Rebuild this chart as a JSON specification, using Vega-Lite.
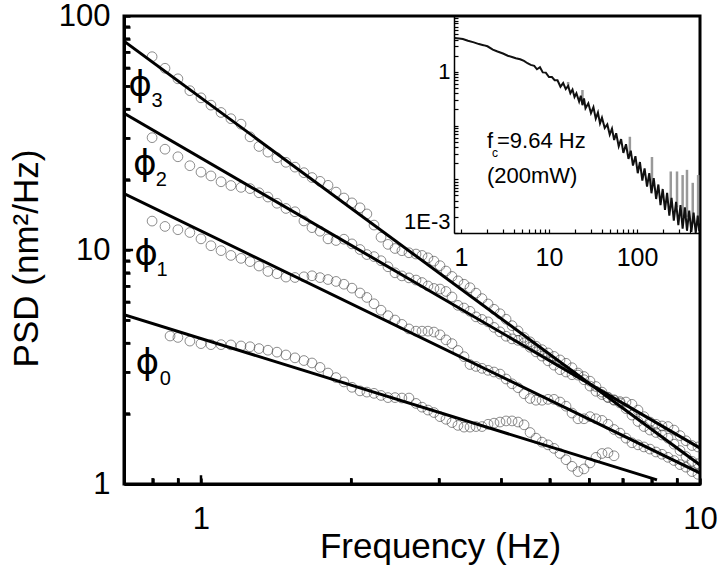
{
  "$schema": "https://vega.github.io/schema/vega-lite/v6.json",
  "width": 576,
  "height": 468,
  "autosize": {"type": "none"},
  "padding": {"left": 124, "top": 16, "right": 20, "bottom": 85},
  "background": "white",
  "config": {
    "font": "Liberation Sans",
    "view": {"stroke": "black", "strokeWidth": 3},
    "axis": {"grid": false, "ticks": true, "domainColor": "black", "tickColor": "black", "labelColor": "black", "titleColor": "black", "labelFont": "Liberation Sans", "titleFont": "Liberation Sans", "titleFontWeight": "normal", "labelFlush": false, "labelOverlap": false}
  },
  "datasets": {
    "fits": [
      {"s": 3, "f": 0.701, "p": 78.1}, {"s": 3, "f": 10, "p": 1.206},
      {"s": 2, "f": 0.701, "p": 38.4}, {"s": 2, "f": 10, "p": 1.424},
      {"s": 1, "f": 0.701, "p": 17.43}, {"s": 1, "f": 10, "p": 1.114},
      {"s": 0, "f": 0.701, "p": 5.29}, {"s": 0, "f": 8.2, "p": 1.041}
    ],
    "pts": [
      {"s":3,"f":0.798,"p":67.0},{"s":2,"f":0.798,"p":30.2},{"s":1,"f":0.798,"p":13.29},
      {"s":3,"f":0.847,"p":59.8},{"s":2,"f":0.847,"p":26.96},{"s":1,"f":0.847,"p":12.61},
      {"s":0,"f":0.867,"p":4.29},
      {"s":3,"f":0.899,"p":53.9},{"s":2,"f":0.899,"p":25.03},{"s":1,"f":0.899,"p":12.21},{"s":0,"f":0.899,"p":4.23},
      {"s":3,"f":0.950,"p":47.95},{"s":2,"f":0.950,"p":22.92},{"s":1,"f":0.950,"p":11.88},{"s":0,"f":0.950,"p":4.08},
      {"s":3,"f":1.000,"p":44.7},{"s":2,"f":1.000,"p":21.52},{"s":1,"f":1.000,"p":11.16},{"s":0,"f":1.000,"p":3.98},
      {"s":3,"f":1.047,"p":41.6},{"s":2,"f":1.047,"p":20.73},{"s":1,"f":1.047,"p":10.43},{"s":0,"f":1.047,"p":3.94},
      {"s":3,"f":1.097,"p":38.7},{"s":2,"f":1.097,"p":19.57},{"s":1,"f":1.097,"p":9.94},{"s":0,"f":1.097,"p":3.94},
      {"s":3,"f":1.148,"p":36.4},{"s":2,"f":1.148,"p":18.86},{"s":1,"f":1.148,"p":9.48},{"s":0,"f":1.148,"p":3.93},
      {"s":3,"f":1.203,"p":34.5},{"s":2,"f":1.203,"p":18.52},{"s":1,"f":1.203,"p":9.21},{"s":0,"f":1.203,"p":3.89},
      {"s":3,"f":1.254,"p":30.45},{"s":2,"f":1.254,"p":18.30},{"s":1,"f":1.254,"p":8.92},{"s":0,"f":1.254,"p":3.86},
      {"s":3,"f":1.307,"p":27.7},{"s":2,"f":1.307,"p":17.56},{"s":1,"f":1.307,"p":8.54},{"s":0,"f":1.307,"p":3.79},
      {"s":3,"f":1.362,"p":26.2},{"s":2,"f":1.362,"p":16.84},{"s":1,"f":1.362,"p":8.10},{"s":0,"f":1.362,"p":3.73},
      {"s":3,"f":1.420,"p":24.8},{"s":2,"f":1.420,"p":15.84},{"s":1,"f":1.420,"p":7.92},{"s":0,"f":1.420,"p":3.66},
      {"s":3,"f":1.480,"p":23.7},{"s":2,"f":1.480,"p":15.05},{"s":1,"f":1.480,"p":7.66},{"s":0,"f":1.480,"p":3.56},
      {"s":3,"f":1.543,"p":22.6},{"s":2,"f":1.543,"p":14.57},{"s":1,"f":1.543,"p":7.63},{"s":0,"f":1.543,"p":3.46},
      {"s":3,"f":1.608,"p":21.4},{"s":2,"f":1.608,"p":13.31},{"s":1,"f":1.608,"p":7.68},{"s":0,"f":1.608,"p":3.37},
      {"s":3,"f":1.669,"p":20.4},{"s":2,"f":1.669,"p":12.46},{"s":1,"f":1.669,"p":7.76},{"s":0,"f":1.669,"p":3.29},
      {"s":3,"f":1.732,"p":19.65},{"s":2,"f":1.732,"p":12.03},{"s":1,"f":1.732,"p":7.62},{"s":0,"f":1.732,"p":3.15},
      {"s":3,"f":1.797,"p":18.9},{"s":2,"f":1.797,"p":11.16},{"s":1,"f":1.797,"p":7.48},{"s":0,"f":1.797,"p":2.98},
      {"s":3,"f":1.865,"p":17.68},{"s":2,"f":1.865,"p":10.98},{"s":1,"f":1.865,"p":7.34},{"s":0,"f":1.865,"p":2.85},
      {"s":3,"f":1.934,"p":16.68},{"s":2,"f":1.934,"p":11.12},{"s":1,"f":1.934,"p":7.14},{"s":0,"f":1.934,"p":2.73},
      {"s":3,"f":2.007,"p":15.9},{"s":2,"f":2.007,"p":10.62},{"s":1,"f":2.007,"p":6.87},{"s":0,"f":2.007,"p":2.59},
      {"s":3,"f":2.083,"p":15.15},{"s":2,"f":2.083,"p":10.05},{"s":1,"f":2.083,"p":6.55},{"s":0,"f":2.083,"p":2.50},
      {"s":3,"f":2.150,"p":14.26},{"s":2,"f":2.150,"p":9.56},{"s":1,"f":2.150,"p":6.27},{"s":0,"f":2.150,"p":2.47},
      {"s":3,"f":2.222,"p":12.78},{"s":2,"f":2.222,"p":9.37},{"s":1,"f":2.222,"p":5.89},{"s":0,"f":2.222,"p":2.44},
      {"s":3,"f":2.295,"p":11.34},{"s":2,"f":2.295,"p":9.00},{"s":1,"f":2.295,"p":5.53},{"s":0,"f":2.295,"p":2.39},
      {"s":3,"f":2.370,"p":10.57},{"s":2,"f":2.370,"p":8.48},{"s":1,"f":2.370,"p":5.24},{"s":0,"f":2.370,"p":2.34},
      {"s":3,"f":2.448,"p":10.15},{"s":2,"f":2.448,"p":7.99},{"s":1,"f":2.448,"p":5.02},{"s":0,"f":2.448,"p":2.34},
      {"s":3,"f":2.527,"p":9.93},{"s":2,"f":2.527,"p":7.75},{"s":1,"f":2.527,"p":4.81},{"s":0,"f":2.527,"p":2.33},
      {"s":3,"f":2.611,"p":9.73},{"s":2,"f":2.611,"p":7.60},{"s":1,"f":2.611,"p":4.60},{"s":0,"f":2.611,"p":2.33},
      {"s":3,"f":2.697,"p":9.61},{"s":2,"f":2.697,"p":7.44},{"s":1,"f":2.697,"p":4.50},{"s":0,"f":2.697,"p":2.21},
      {"s":3,"f":2.773,"p":9.48},{"s":2,"f":2.773,"p":7.26},{"s":1,"f":2.773,"p":4.50},{"s":0,"f":2.773,"p":2.13},
      {"s":3,"f":2.850,"p":9.26},{"s":2,"f":2.850,"p":7.02},{"s":1,"f":2.850,"p":4.50},{"s":0,"f":2.850,"p":2.07},
      {"s":3,"f":2.930,"p":8.96},{"s":2,"f":2.930,"p":6.85},{"s":1,"f":2.930,"p":4.46},{"s":0,"f":2.930,"p":2.02},
      {"s":3,"f":3.013,"p":8.57},{"s":2,"f":3.013,"p":6.81},{"s":1,"f":3.013,"p":4.34},{"s":0,"f":3.013,"p":1.94},
      {"s":3,"f":3.097,"p":8.13},{"s":2,"f":3.097,"p":6.65},{"s":1,"f":3.097,"p":4.13},{"s":0,"f":3.097,"p":1.89},
      {"s":3,"f":3.184,"p":7.71},{"s":2,"f":3.184,"p":6.30},{"s":1,"f":3.184,"p":3.98},{"s":0,"f":3.184,"p":1.83},
      {"s":3,"f":3.273,"p":7.38},{"s":2,"f":3.273,"p":5.80},{"s":1,"f":3.273,"p":3.72},{"s":0,"f":3.273,"p":1.78},
      {"s":3,"f":3.366,"p":7.14},{"s":2,"f":3.366,"p":5.65},{"s":1,"f":3.366,"p":3.50},{"s":0,"f":3.366,"p":1.75},
      {"s":3,"f":3.460,"p":6.90},{"s":2,"f":3.460,"p":5.47},{"s":1,"f":3.460,"p":3.24},{"s":0,"f":3.460,"p":1.75},
      {"s":3,"f":3.557,"p":6.54},{"s":2,"f":3.557,"p":5.18},{"s":1,"f":3.557,"p":3.18},{"s":0,"f":3.557,"p":1.76},
      {"s":3,"f":3.657,"p":6.20},{"s":2,"f":3.657,"p":5.05},{"s":1,"f":3.657,"p":3.12},{"s":0,"f":3.657,"p":1.76},
      {"s":3,"f":3.761,"p":5.88},{"s":2,"f":3.761,"p":4.93},{"s":1,"f":3.761,"p":3.06},{"s":0,"f":3.761,"p":1.80},
      {"s":3,"f":3.866,"p":5.58},{"s":2,"f":3.866,"p":4.67},{"s":1,"f":3.866,"p":3.01},{"s":0,"f":3.866,"p":1.82},
      {"s":3,"f":3.974,"p":5.34},{"s":2,"f":3.974,"p":4.47},{"s":1,"f":3.974,"p":2.95},{"s":0,"f":3.974,"p":1.84},
      {"s":3,"f":4.087,"p":5.06},{"s":2,"f":4.087,"p":4.28},{"s":1,"f":4.087,"p":2.81},{"s":0,"f":4.087,"p":1.86},
      {"s":3,"f":4.201,"p":4.75},{"s":2,"f":4.201,"p":4.17},{"s":1,"f":4.201,"p":2.68},{"s":0,"f":4.201,"p":1.86},
      {"s":3,"f":4.319,"p":4.51},{"s":2,"f":4.319,"p":4.11},{"s":1,"f":4.319,"p":2.58},{"s":0,"f":4.319,"p":1.84},
      {"s":3,"f":4.441,"p":4.23},{"s":2,"f":4.441,"p":4.01},{"s":1,"f":4.441,"p":2.43},{"s":0,"f":4.441,"p":1.79},
      {"s":3,"f":4.565,"p":4.05},{"s":2,"f":4.565,"p":3.84},{"s":1,"f":4.565,"p":2.32},{"s":0,"f":4.565,"p":1.66},
      {"s":3,"f":4.692,"p":3.88},{"s":2,"f":4.692,"p":3.67},{"s":1,"f":4.692,"p":2.28},{"s":0,"f":4.692,"p":1.57},
      {"s":3,"f":4.824,"p":3.75},{"s":2,"f":4.824,"p":3.52},{"s":1,"f":4.824,"p":2.28},{"s":0,"f":4.824,"p":1.51},
      {"s":3,"f":4.960,"p":3.63},{"s":2,"f":4.960,"p":3.36},{"s":1,"f":4.960,"p":2.30},{"s":0,"f":4.960,"p":1.47},
      {"s":3,"f":5.099,"p":3.51},{"s":2,"f":5.099,"p":3.22},{"s":1,"f":5.099,"p":2.30},{"s":0,"f":5.099,"p":1.42},
      {"s":3,"f":5.242,"p":3.39},{"s":2,"f":5.242,"p":3.08},{"s":1,"f":5.242,"p":2.24},{"s":0,"f":5.242,"p":1.35},
      {"s":3,"f":5.389,"p":3.28},{"s":2,"f":5.389,"p":3.01},{"s":1,"f":5.389,"p":2.15},{"s":0,"f":5.389,"p":1.27},
      {"s":3,"f":5.540,"p":3.14},{"s":2,"f":5.540,"p":2.93},{"s":1,"f":5.540,"p":2.01},{"s":0,"f":5.540,"p":1.19},
      {"s":3,"f":5.695,"p":2.98},{"s":2,"f":5.695,"p":2.92},{"s":1,"f":5.695,"p":1.90},{"s":0,"f":5.695,"p":1.13},
      {"s":3,"f":5.855,"p":2.79},{"s":2,"f":5.855,"p":2.88},{"s":1,"f":5.855,"p":1.90},{"s":0,"f":5.855,"p":1.16},
      {"s":3,"f":6.020,"p":2.62},{"s":2,"f":6.020,"p":2.75},{"s":1,"f":6.020,"p":1.94},{"s":0,"f":6.020,"p":1.23},
      {"s":3,"f":6.188,"p":2.49},{"s":2,"f":6.188,"p":2.61},{"s":1,"f":6.188,"p":1.90},{"s":0,"f":6.188,"p":1.30},
      {"s":3,"f":6.362,"p":2.41},{"s":2,"f":6.362,"p":2.47},{"s":1,"f":6.362,"p":1.87},{"s":0,"f":6.362,"p":1.35},
      {"s":3,"f":6.540,"p":2.35},{"s":2,"f":6.540,"p":2.34},{"s":1,"f":6.540,"p":1.80},{"s":0,"f":6.540,"p":1.36},
      {"s":3,"f":6.725,"p":2.29},{"s":2,"f":6.725,"p":2.28},{"s":1,"f":6.725,"p":1.71},{"s":0,"f":6.725,"p":1.32},
      {"s":3,"f":6.913,"p":2.22},{"s":2,"f":6.913,"p":2.25},{"s":1,"f":6.913,"p":1.65},
      {"s":3,"f":7.107,"p":2.10},{"s":2,"f":7.107,"p":2.24},{"s":1,"f":7.107,"p":1.57},
      {"s":3,"f":7.306,"p":1.97},{"s":2,"f":7.306,"p":2.19},{"s":1,"f":7.306,"p":1.50},
      {"s":3,"f":7.512,"p":1.85},{"s":2,"f":7.512,"p":2.07},{"s":1,"f":7.512,"p":1.47},
      {"s":3,"f":7.722,"p":1.76},{"s":2,"f":7.722,"p":1.94},{"s":1,"f":7.722,"p":1.44},
      {"s":3,"f":7.939,"p":1.70},{"s":2,"f":7.939,"p":1.84},{"s":1,"f":7.939,"p":1.41},
      {"s":3,"f":8.162,"p":1.66},{"s":2,"f":8.162,"p":1.80},{"s":1,"f":8.162,"p":1.37},
      {"s":3,"f":8.391,"p":1.62},{"s":2,"f":8.391,"p":1.77},{"s":1,"f":8.391,"p":1.34},
      {"s":3,"f":8.628,"p":1.57},{"s":2,"f":8.628,"p":1.76},{"s":1,"f":8.628,"p":1.30},
      {"s":3,"f":8.870,"p":1.48},{"s":2,"f":8.870,"p":1.70},{"s":1,"f":8.870,"p":1.26},
      {"s":3,"f":9.119,"p":1.39},{"s":2,"f":9.119,"p":1.61},{"s":1,"f":9.119,"p":1.21},
      {"s":3,"f":9.374,"p":1.31},{"s":2,"f":9.374,"p":1.53},{"s":1,"f":9.374,"p":1.18},
      {"s":3,"f":9.638,"p":1.25},{"s":2,"f":9.638,"p":1.46},{"s":1,"f":9.638,"p":1.13},
      {"s":3,"f":9.908,"p":1.22},{"s":2,"f":9.908,"p":1.44},{"s":1,"f":9.908,"p":1.10}
    ],
    "phi": [
      {"s": "3", "f": 0.755, "p": 50.7},
      {"s": "2", "f": 0.772, "p": 23.4},
      {"s": "1", "f": 0.776, "p": 9.66},
      {"s": "0", "f": 0.781, "p": 3.30}
    ],
    "sub": [
      {"s": "3", "f": 0.817, "p": 43.5},
      {"s": "2", "f": 0.833, "p": 19.9},
      {"s": "1", "f": 0.836, "p": 8.21},
      {"s": "0", "f": 0.848, "p": 2.82}
    ],
    "ins": [
      {"f":0.85,"p":4.3},{"f":0.95,"p":4.2},{"f":1.05,"p":4.1},{"f":1.2,"p":3.8},{"f":1.4,"p":3.55},{"f":1.6,"p":3.3},{"f":1.8,"p":3.15},{"f":2.0,"p":3.0},{"f":2.3,"p":2.6},{"f":2.6,"p":2.4},{"f":3.0,"p":2.2},{"f":3.4,"p":2.0},{"f":3.8,"p":1.9},{"f":4.2,"p":1.8},{"f":4.7,"p":1.72},{"f":5.2,"p":1.6},{"f":5.7,"p":1.45},{"f":6.2,"p":1.35},{"f":6.8,"p":1.3},{"f":7.3,"p":1.12},{"f":7.9,"p":1.22},{"f":8.5,"p":0.98},{"f":9.2,"p":0.97},{"f":10,"p":0.8},{"f":10.8,"p":0.8},{"f":11.6,"p":0.7},{"f":12.5,"p":0.7},{"f":13.5,"p":0.53},{"f":14.5,"p":0.62},{"f":15.5,"p":0.48},{"f":16.5,"p":0.55},{"f":17.5,"p":0.4},{"f":18.5,"p":0.47},{"f":19.5,"p":0.34},{"f":20.5,"p":0.4},{"f":22,"p":0.28},{"f":23,"p":0.36},{"f":24,"p":0.24},{"f":25,"p":0.32},{"f":26,"p":0.21},{"f":28,"p":0.26},{"f":30,"p":0.17},{"f":32,"p":0.22},{"f":34,"p":0.135},{"f":36,"p":0.175},{"f":38,"p":0.11},{"f":40,"p":0.14},{"f":43,"p":0.09},{"f":46,"p":0.105},{"f":49,"p":0.068},{"f":52,"p":0.088},{"f":55,"p":0.054},{"f":58,"p":0.072},{"f":62,"p":0.041},{"f":66,"p":0.056},{"f":70,"p":0.031},{"f":75,"p":0.045},{"f":80,"p":0.024},{"f":85,"p":0.034},{"f":90,"p":0.018},{"f":96,"p":0.027},{"f":102,"p":0.013},{"f":108,"p":0.021},{"f":115,"p":0.0095},{"f":122,"p":0.016},{"f":130,"p":0.0073},{"f":138,"p":0.013},{"f":146,"p":0.0055},{"f":155,"p":0.0105},{"f":165,"p":0.0043},{"f":175,"p":0.008},{"f":185,"p":0.0033},{"f":196,"p":0.0066},{"f":208,"p":0.0027},{"f":220,"p":0.0056},{"f":233,"p":0.0021},{"f":247,"p":0.0045},{"f":262,"p":0.0017},{"f":278,"p":0.0038},{"f":295,"p":0.0014},{"f":312,"p":0.0033},{"f":330,"p":0.0012},{"f":350,"p":0.003},{"f":370,"p":0.0011},{"f":392,"p":0.0026},{"f":415,"p":0.00105},{"f":440,"p":0.0024},{"f":465,"p":0.001},{"f":490,"p":0.0021},{"f":510,"p":0.0011}
    ],
    "spikes": [
      {"f":16.5,"lo":0.5,"hi":0.65},{"f":24,"lo":0.3,"hi":0.46},{"f":83,"lo":0.03,"hi":0.062},{"f":148,"lo":0.008,"hi":0.026},{"f":242,"lo":0.003,"hi":0.014},{"f":285,"lo":0.003,"hi":0.014},{"f":330,"lo":0.002,"hi":0.012},{"f":370,"lo":0.002,"hi":0.015},{"f":430,"lo":0.0015,"hi":0.0086},{"f":495,"lo":0.0015,"hi":0.012}
    ],
    "itext": [
      {"t": "f", "f": 1.975, "p": 0.0385},
      {"t": "=9.64 Hz", "f": 2.565, "p": 0.0385},
      {"t": "(200mW)", "f": 1.975, "p": 0.00857}
    ],
    "isub": [
      {"t": "c", "f": 2.25, "p": 0.0261}
    ],
    "xminor": [{"f": 0.8}, {"f": 0.9}, {"f": 2}, {"f": 3}, {"f": 4}, {"f": 5}, {"f": 6}, {"f": 7}, {"f": 8}, {"f": 9}],
    "yminor": [{"p": 2}, {"p": 3}, {"p": 4}, {"p": 5}, {"p": 6}, {"p": 7}, {"p": 8}, {"p": 9}, {"p": 20}, {"p": 30}, {"p": 40}, {"p": 50}, {"p": 60}, {"p": 70}, {"p": 80}, {"p": 90}],
    "xmaj": [{"f": 1}],
    "ymaj": [{"p": 10}]
  },
  "layer": [
    {
      "layer": [
        {
          "data": {"name": "pts"},
          "mark": {"type": "point", "shape": "circle", "filled": false, "stroke": "#333", "strokeWidth": 0.8, "size": 95, "clip": true},
          "encoding": {
            "x": {"field": "f", "type": "quantitative", "scale": {"type": "log", "domain": [0.701, 10], "nice": false},
              "axis": {"orient": "bottom", "title": "Frequency (Hz)", "titleFontSize": 35, "titleX": 316, "titleY": 73, "titleAlign": "center", "titleBaseline": "alphabetic",
                "values": [0.8, 0.9, 1, 2, 3, 4, 5, 6, 7, 8, 9, 10],
                "labelExpr": "datum.value == 1 ? '1' : datum.value == 10 ? '10' : ''",
                "labelFontSize": 31, "labelPadding": 26, "ticks": true,
                "tickSize": -6, "tickWidth": 2.5, "domainWidth": 3, "zindex": 5}},
            "y": {"field": "p", "type": "quantitative", "scale": {"type": "log", "domain": [1, 100], "nice": false},
              "axis": {"orient": "left", "title": "PSD (nm²/Hz)", "titleFontSize": 35, "titleX": -87, "titleY": 242, "titleAngle": 270, "titleAlign": "center", "titleBaseline": "alphabetic",
                "values": [1, 2, 3, 4, 5, 6, 7, 8, 9, 10, 20, 30, 40, 50, 60, 70, 80, 90, 100],
                "labelExpr": "datum.value == 1 ? '1' : datum.value == 10 ? '10' : datum.value == 100 ? '100' : ''",
                "labelFontSize": 31, "labelPadding": 20, "ticks": true,
                "tickSize": -6, "tickWidth": 2.5, "domainWidth": 3, "zindex": 5}}
          }
        },
        {
          "data": {"name": "fits"},
          "mark": {"type": "line", "color": "black", "strokeWidth": 3, "clip": true},
          "encoding": {
            "x": {"field": "f", "type": "quantitative"},
            "y": {"field": "p", "type": "quantitative"},
            "detail": {"field": "s"}
          }
        },
        {
          "data": {"name": "xminor"},
          "mark": {"type": "rule", "color": "black", "strokeWidth": 2.5},
          "encoding": {
            "x": {"field": "f", "type": "quantitative"},
            "y": {"datum": 1},
            "y2": {"datum": 1.06}
          }
        },
        {
          "data": {"name": "yminor"},
          "mark": {"type": "rule", "color": "black", "strokeWidth": 2.5},
          "encoding": {
            "y": {"field": "p", "type": "quantitative"},
            "x": {"datum": 0.701},
            "x2": {"datum": 0.7205}
          }
        },
        {
          "data": {"name": "xmaj"},
          "mark": {"type": "rule", "color": "black", "strokeWidth": 2.5},
          "encoding": {
            "x": {"field": "f", "type": "quantitative"},
            "y": {"datum": 1},
            "y2": {"datum": 1.09}
          }
        },
        {
          "data": {"name": "ymaj"},
          "mark": {"type": "rule", "color": "black", "strokeWidth": 2.5},
          "encoding": {
            "y": {"field": "p", "type": "quantitative"},
            "x": {"datum": 0.701},
            "x2": {"datum": 0.731}
          }
        },
        {
          "data": {"name": "phi"},
          "mark": {"type": "text", "font": "DejaVu Sans", "fontSize": 36, "align": "center", "baseline": "middle", "color": "black"},
          "encoding": {
            "x": {"field": "f", "type": "quantitative"},
            "y": {"field": "p", "type": "quantitative"},
            "text": {"value": "ϕ"}
          }
        },
        {
          "data": {"name": "sub"},
          "mark": {"type": "text", "fontSize": 20, "align": "center", "baseline": "middle", "color": "black"},
          "encoding": {
            "x": {"field": "f", "type": "quantitative"},
            "y": {"field": "p", "type": "quantitative"},
            "text": {"field": "s"}
          }
        }
      ]
    },
    {
      "layer": [
        {
          "data": {"name": "spikes"},
          "mark": {"type": "rule", "color": "#999", "strokeWidth": 2.5},
          "encoding": {
            "x": {"field": "f", "type": "quantitative", "scale": {"type": "log", "domain": [0.833, 520], "nice": false, "range": [330, 576]},
              "axis": {"orient": "bottom", "offset": -251, "title": null,
                "values": [1, 2, 3, 4, 5, 6, 7, 8, 9, 10, 20, 30, 40, 50, 60, 70, 80, 90, 100, 200, 300, 400, 500],
                "labelExpr": "datum.value == 1 ? '1' : datum.value == 10 ? '10' : datum.value == 100 ? '100' : ''",
                "labelFontSize": 25, "labelPadding": 16, "ticks": true,
                "tickSize": -4, "tickWidth": 1.2, "domainWidth": 1.5, "zindex": 5}},
            "y": {"field": "lo", "type": "quantitative", "scale": {"type": "log", "domain": [0.001, 11], "nice": false, "range": [217, 0]},
              "axis": {"orient": "left", "offset": -330, "title": null,
                "values": [0.001, 0.002, 0.003, 0.004, 0.005, 0.006, 0.007, 0.008, 0.009, 0.01, 0.02, 0.03, 0.04, 0.05, 0.06, 0.07, 0.08, 0.09, 0.1, 0.2, 0.3, 0.4, 0.5, 0.6, 0.7, 0.8, 0.9, 1, 2, 3, 4, 5, 6, 7, 8, 9, 10],
                "labelExpr": "datum.value == 1 ? '1' : datum.value == 0.001 ? '1E-3' : ''",
                "labelFontSize": 22, "labelPadding": 8, "labelFlush": true, "ticks": true,
                "tickSize": -4, "tickWidth": 1.2, "domainWidth": 1.5, "zindex": 5}},
            "y2": {"field": "hi"}
          }
        },
        {
          "data": {"name": "ins"},
          "mark": {"type": "line", "color": "#111", "strokeWidth": 2},
          "encoding": {
            "x": {"field": "f", "type": "quantitative"},
            "y": {"field": "p", "type": "quantitative"}
          }
        },
        {
          "data": {"name": "itext"},
          "mark": {"type": "text", "fontSize": 22, "align": "left", "baseline": "alphabetic", "color": "black"},
          "encoding": {
            "x": {"field": "f", "type": "quantitative"},
            "y": {"field": "p", "type": "quantitative"},
            "text": {"field": "t"}
          }
        },
        {
          "data": {"name": "isub"},
          "mark": {"type": "text", "fontSize": 12, "align": "left", "baseline": "alphabetic", "color": "black"},
          "encoding": {
            "x": {"field": "f", "type": "quantitative"},
            "y": {"field": "p", "type": "quantitative"},
            "text": {"field": "t"}
          }
        }
      ]
    }
  ],
  "resolve": {"scale": {"x": "independent", "y": "independent"}, "axis": {"x": "independent", "y": "independent"}}
}
